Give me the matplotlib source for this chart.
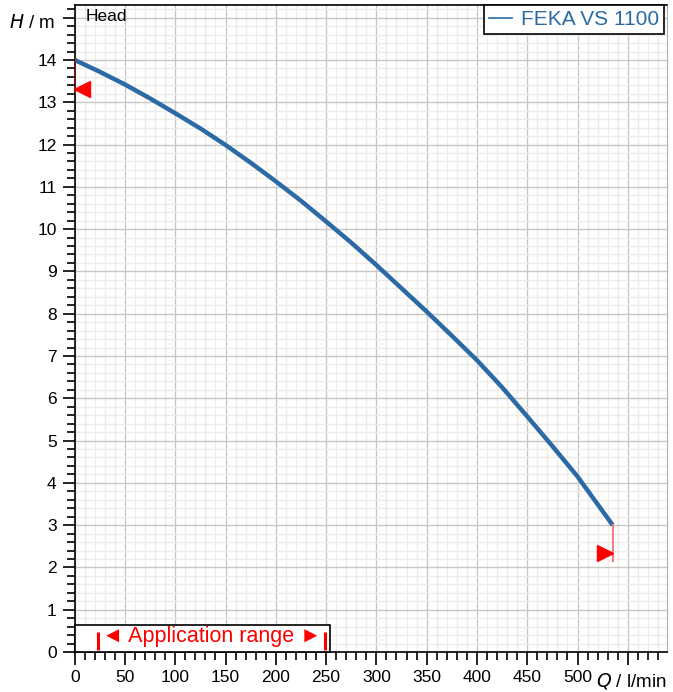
import numpy as np
import matplotlib.pyplot as plt
from matplotlib.lines import Line2D
from matplotlib.patches import Rectangle
from matplotlib.ticker import MultipleLocator

plt.rcParams['font.family'] = ['Liberation Sans', 'DejaVu Sans']

# pump curve
q_flow = [0, 25, 50, 75, 100, 125, 150, 175, 200, 225, 250, 275, 300,
          325, 350, 375, 400, 425, 450, 475, 500, 535]
h_head = [14.0, 13.72, 13.42, 13.09, 12.74, 12.38, 11.99, 11.57, 11.13, 10.67, 10.18, 9.68, 9.15,
          8.60, 8.05, 7.48, 6.90, 6.26, 5.57, 4.87, 4.15, 3.0]
series_name = 'FEKA VS 1100'
x_ticks = [0, 50, 100, 150, 200, 250, 300, 350, 400, 450, 500, 550]
x_labels = ['0', '50', '100', '150', '200', '250', '300', '350', '400', '450', '500', '']
y_ticks = list(range(0, 16))
y_labels = [str(v) for v in range(0, 15)] + ['']
app_range = [23, 249]

blue = '#2c6aa5'
red = '#ff0000'

fig = plt.figure(figsize=(6.73, 6.92), dpi=100)
ax = fig.add_axes([74.7 / 673, 40 / 692, (667 - 74.7) / 673, (652 - 5) / 692])

ax.set_xlim(0, 589)
ax.set_ylim(0, 15.3)

# grid
ax.xaxis.set_major_locator(MultipleLocator(50))
ax.xaxis.set_minor_locator(MultipleLocator(10))
ax.yaxis.set_major_locator(MultipleLocator(1))
ax.yaxis.set_minor_locator(MultipleLocator(0.2))
ax.grid(which='major', color='#c8c8c8', lw=1.0, zorder=0)
ax.grid(which='minor', color='#eeece8', lw=1.0, zorder=0)
ax.set_axisbelow(True)

ax.set_xticks(x_ticks)
ax.set_xticklabels(x_labels)
ax.set_yticks(y_ticks)
ax.set_yticklabels(y_labels)
ax.tick_params(which='major', direction='out', length=9, width=1.2, labelsize=12.5, pad=4)
ax.tick_params(which='minor', direction='out', length=6, width=1.2)
ax.tick_params(axis='x', which='both', top=False)
ax.tick_params(axis='y', which='both', right=False)

for s in ['left', 'bottom', 'top']:
    ax.spines[s].set_color('black')
    ax.spines[s].set_linewidth(1.2)
ax.spines['right'].set_color('#b0b0b0')
ax.spines['right'].set_linewidth(0.8)

# curve
ax.plot(q_flow, h_head, color=blue, lw=3.2, solid_capstyle='butt',
        solid_joinstyle='round', zorder=4)

# operating limits
ax.plot([q_flow[0], q_flow[0]], [h_head[0], 13.22], color='#c00000', lw=1.2, zorder=5)
ax.plot([7.5], [13.31], marker='<', color=red, ms=12, zorder=6, clip_on=False)
ax.plot([q_flow[-1], q_flow[-1]], [h_head[-1], 2.16], color='#f08080', lw=1.5, zorder=5)
ax.plot([527.5], [2.34], marker='>', color=red, ms=12, zorder=6)

# application range box
ax.add_patch(Rectangle((0, 0), 254, 0.64, facecolor='white', edgecolor='black',
                       lw=1.2, zorder=7, clip_on=False))
for q in app_range:
    ax.plot([q, q], [0.04, 0.47], color=red, lw=2.2, zorder=8, solid_capstyle='butt')
ax.text(136, 0.37, '\u25c4 Application range \u25ba', color=red, fontsize=15.5,
        ha='center', va='center', zorder=9)

# labels
ax.text(0.018, 0.994, 'Head', transform=ax.transAxes, fontsize=12.5, va='top', ha='left')
fig.text(9 / 673, 1 - 23 / 692, r'$H$ / m', fontsize=13.5, ha='left', va='center')
fig.text(596 / 673, 1 - 681 / 692, r'$Q$ / l/min', fontsize=13.5, ha='left', va='center')

leg = ax.legend(handles=[Line2D([], [], color=blue, lw=1.2)], labels=[series_name],
                loc='upper right', fontsize=15, handlelength=1.1, handletextpad=0.4,
                borderaxespad=0, fancybox=False, framealpha=1, edgecolor='black',
                labelcolor=blue, borderpad=0.25, bbox_to_anchor=(0.995, 1.0))
leg.get_frame().set_linewidth(1.2)

fig.savefig('out.png', dpi=100)
